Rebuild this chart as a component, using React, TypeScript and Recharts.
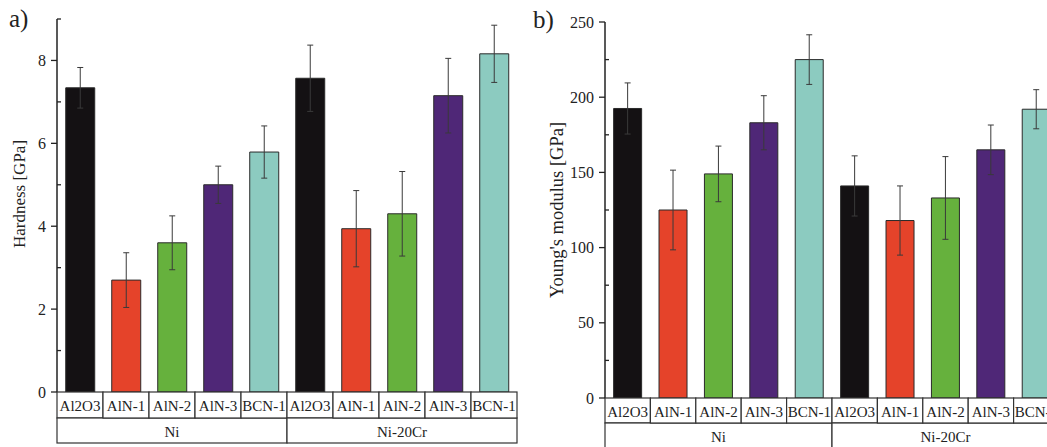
import React from 'react';
import { BarChart, Bar, XAxis, YAxis, Cell, ErrorBar } from 'recharts';

const categories = ['Al2O3', 'AlN-1', 'AlN-2', 'AlN-3', 'BCN-1'];
const groups = ['Ni', 'Ni-20Cr'];
const colors = ['#141113', '#e5432a', '#66b13d', '#4f2777', '#8ccbc0'];

const hardnessNi = [7.34, 2.7, 3.6, 5.0, 5.79];
const hardnessNiErr = [0.49, 0.66, 0.65, 0.45, 0.63];
const hardnessNiCr = [7.57, 3.94, 4.3, 7.15, 8.16];
const hardnessNiCrErr = [0.8, 0.92, 1.02, 0.9, 0.69];

const modulusNi = [192.5, 125, 149, 183, 225];
const modulusNiErr = [17, 26.5, 18.5, 18, 16.5];
const modulusNiCr = [141, 118, 133, 165, 192];
const modulusNiCrErr = [20, 23, 27.5, 16.5, 13];

const hardnessTicks = [0, 1, 2, 3, 4, 5, 6, 7, 8, 9];
const hardnessLabels = [0, 2, 4, 6, 8];
const modulusTicks = [0, 25, 50, 75, 100, 125, 150, 175, 200, 225, 250];
const modulusLabels = [0, 50, 100, 150, 200, 250];

const FONT = '"Liberation Serif", "Times New Roman", serif';
const TEXT = '#222';

function buildRows(a: number[], aErr: number[], b: number[], bErr: number[]) {
  const rows: { key: string; cat: string; group: string; value: number; err: number; idx: number }[] = [];
  groups.forEach((g, gi) => {
    const vals = gi === 0 ? a : b;
    const errs = gi === 0 ? aErr : bErr;
    categories.forEach((c, ci) => {
      rows.push({ key: g + '|' + c, cat: c, group: g, value: vals[ci], err: errs[ci], idx: ci });
    });
  });
  return rows;
}

const hardnessData = buildRows(hardnessNi, hardnessNiErr, hardnessNiCr, hardnessNiCrErr);
const modulusData = buildRows(modulusNi, modulusNiErr, modulusNiCr, modulusNiCrErr);

const TICK_SIZE = 6;
const TICK_MARGIN = 6;

function makeYTick(labels: number[]) {
  return (props: any) => {
    const { x, y, payload } = props;
    const axisX = x + TICK_SIZE + TICK_MARGIN;
    const major = labels.includes(payload.value);
    return (
      <g>
        {major ? (
          <line x1={axisX - 6} x2={axisX} y1={y} y2={y} stroke={TEXT} strokeWidth={1.3} />
        ) : (
          <line x1={axisX} x2={axisX + 4} y1={y} y2={y} stroke={TEXT} strokeWidth={1.3} />
        )}
        {major && (
          <text x={axisX - 11} y={y} textAnchor="end" dominantBaseline="central" fontSize={16} fontFamily={FONT} fill={TEXT}>
            {payload.value}
          </text>
        )}
      </g>
    );
  };
}

function makeXTick(data: any[], bw: number, rowH: number, groupH: number) {
  return (props: any) => {
    const { x, y, payload } = props;
    const index = payload && payload.index !== undefined ? payload.index : props.index;
    const row = data[index];
    if (!row) return <g />;
    const left = x - bw / 2;
    return (
      <g>
        <rect x={left} y={y} width={bw} height={rowH} fill="#fff" stroke="#333" strokeWidth={1.2} />
        <text x={x} y={y + rowH / 2 + 1} textAnchor="middle" dominantBaseline="central" fontSize={15} fontFamily={FONT} fill={TEXT}>
          {row.cat}
        </text>
        {row.idx === 0 && (
          <g>
            <rect x={left} y={y + rowH} width={bw * categories.length} height={groupH} fill="#fff" stroke="#333" strokeWidth={1.2} />
            <text x={left + (bw * categories.length) / 2} y={y + rowH + groupH / 2 + 1} textAnchor="middle" dominantBaseline="central" fontSize={15} fontFamily={FONT} fill={TEXT}>
              {row.group}
            </text>
          </g>
        )}
      </g>
    );
  };
}

function Panel(props: {
  data: any[];
  width: number;
  margin: { top: number; right: number; left: number; bottom: number };
  yWidth: number;
  xHeight: number;
  domain: [number, number];
  ticks: number[];
  labels: number[];
  rowH: number;
  groupH: number;
}) {
  const { data, width, margin, yWidth, xHeight, domain, ticks, labels, rowH, groupH } = props;
  const plotW = width - margin.left - margin.right - yWidth;
  const bw = plotW / data.length;
  return (
    <BarChart width={width} height={447} data={data} margin={margin} barCategoryGap="19%">
      <XAxis
        dataKey="key"
        height={xHeight}
        axisLine={false}
        tickLine={false}
        tickSize={0}
        tickMargin={0}
        interval={0}
        tick={makeXTick(data, bw, rowH, groupH)}
      />
      <YAxis
        width={yWidth}
        domain={domain}
        ticks={ticks}
        interval={0}
        allowDataOverflow
        axisLine={{ stroke: TEXT, strokeWidth: 1.5 }}
        tickLine={false}
        tickSize={TICK_SIZE}
        tickMargin={TICK_MARGIN}
        tick={makeYTick(labels)}
      />
      <Bar dataKey="value" stroke="#2a2a2a" strokeWidth={1} isAnimationActive={false}>
        {data.map((d, i) => (
          <Cell key={i} fill={colors[d.idx]} />
        ))}
        <ErrorBar dataKey="err" width={3} stroke="#3a3a3a" strokeWidth={1} direction="y" />
      </Bar>
    </BarChart>
  );
}

export default function App() {
  return (
    <div
      style={{
        position: 'absolute',
        left: 0,
        top: 0,
        width: 1047,
        height: 447,
        overflow: 'hidden',
        background: '#fff',
        fontFamily: FONT,
      }}
    >
      <div style={{ position: 'absolute', left: 0, top: 0 }}>
        <Panel
          data={hardnessData}
          width={530}
          margin={{ top: 19, right: 13, left: 0, bottom: 0 }}
          yWidth={57}
          xHeight={55}
          domain={[0, 9]}
          ticks={hardnessTicks}
          labels={hardnessLabels}
          rowH={26}
          groupH={25}
        />
      </div>
      <div style={{ position: 'absolute', left: 530, top: 0 }}>
        <Panel
          data={modulusData}
          width={534}
          margin={{ top: 22, right: 5, left: 0, bottom: 0 }}
          yWidth={75}
          xHeight={49}
          domain={[0, 250]}
          ticks={modulusTicks}
          labels={modulusLabels}
          rowH={25}
          groupH={26}
        />
      </div>
      <div style={{ position: 'absolute', left: 9, top: 4, fontSize: 25, color: TEXT, lineHeight: '30px' }}>a)</div>
      <div style={{ position: 'absolute', left: 533, top: 5, fontSize: 25, color: TEXT, lineHeight: '30px' }}>b)</div>
      <div
        style={{
          position: 'absolute',
          left: 20,
          top: 194,
          transform: 'translate(-50%, -50%) rotate(-90deg)',
          whiteSpace: 'nowrap',
          fontSize: 17,
          color: TEXT,
          lineHeight: '20px',
        }}
      >
        Hardness [GPa]
      </div>
      <div
        style={{
          position: 'absolute',
          left: 557,
          top: 210,
          transform: 'translate(-50%, -50%) rotate(-90deg)',
          whiteSpace: 'nowrap',
          fontSize: 18.5,
          color: TEXT,
          lineHeight: '22px',
        }}
      >
        Young's modulus [GPa]
      </div>
    </div>
  );
}
